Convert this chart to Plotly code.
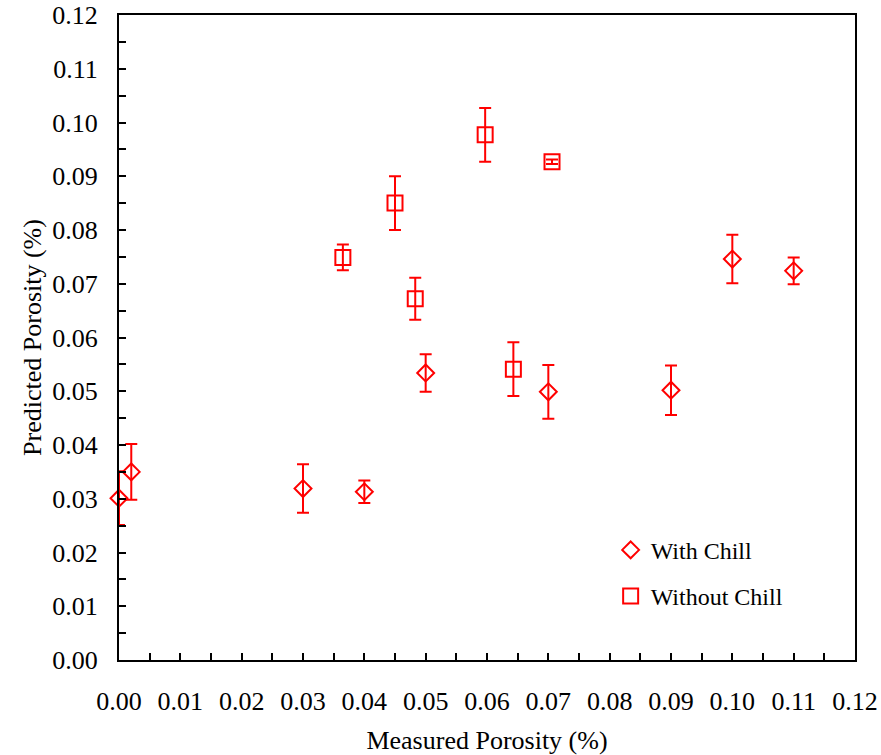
import plotly.graph_objects as go

# With Chill (diamonds)
with_x = [0.000, 0.002, 0.030, 0.040, 0.050, 0.070, 0.090, 0.100, 0.110]
with_y = [0.0301, 0.0350, 0.0319, 0.0313, 0.0534, 0.0499, 0.0502, 0.0746, 0.0724]
with_err = [0.0050, 0.0052, 0.0045, 0.0021, 0.0035, 0.0050, 0.0046, 0.0045, 0.0025]

# Without Chill (squares)
without_x = [0.0365, 0.0450, 0.0483, 0.0597, 0.0643, 0.0706]
without_y = [0.0749, 0.0850, 0.0672, 0.0977, 0.0541, 0.0927]
without_err = [0.0024, 0.0050, 0.0039, 0.0050, 0.0050, 0.0004]

tick_vals = [0.00, 0.01, 0.02, 0.03, 0.04, 0.05, 0.06, 0.07, 0.08, 0.09, 0.10, 0.11, 0.12]
tick_text = [f"{v:.2f}" for v in tick_vals]

RED = "#FF0000"
FONT = "Liberation Serif, Times New Roman, serif"
FS = 26

fig = go.Figure()
fig.add_trace(go.Scatter(
    x=with_x, y=with_y, mode="markers", name="With Chill", legendgroup="a",
    cliponaxis=False,
    marker=dict(symbol="diamond-open", size=13, color=RED, line=dict(width=2, color=RED)),
    error_y=dict(type="data", array=with_err, visible=True, color=RED, thickness=2, width=6),
))
fig.add_trace(go.Scatter(
    x=without_x, y=without_y, mode="markers", name="Without Chill", legendgroup="b",
    cliponaxis=False,
    marker=dict(symbol="square-open", size=15, color=RED, line=dict(width=2, color=RED)),
    error_y=dict(type="data", array=without_err, visible=True, color=RED, thickness=2, width=6),
))

axis_common = dict(
    range=[0, 0.12], tickmode="array", tickvals=tick_vals, ticktext=tick_text,
    ticks="inside", ticklen=7, tickwidth=1.5, tickcolor="black",
    minor=dict(dtick=0.005, tick0=0, ticks="inside", ticklen=7, tickwidth=1.5, tickcolor="black"),
    showline=True, linecolor="black", linewidth=2, mirror=True,
    showgrid=False, zeroline=False, automargin=False,
    tickfont=dict(family=FONT, size=FS, color="black"),
)

fig.update_layout(
    width=881, height=755,
    margin=dict(l=119, r=26, t=15, b=95),
    paper_bgcolor="white", plot_bgcolor="white",
    font=dict(family=FONT, size=FS, color="black"),
    xaxis=dict(**axis_common, ticklabelstandoff=17,
               title=dict(text="Measured Porosity (%)", font=dict(family=FONT, size=FS), standoff=23)),
    yaxis=dict(**axis_common, ticklabelstandoff=14,
               title=dict(text="Predicted Porosity (%)", font=dict(family=FONT, size=FS), standoff=3)),
    showlegend=True,
    legend=dict(x=0.668, y=0.205, xanchor="left", yanchor="top",
                bgcolor="rgba(0,0,0,0)", font=dict(family=FONT, size=24),
                itemwidth=30, tracegroupgap=12, traceorder="grouped"),
)

fig.write_html("out.html")
